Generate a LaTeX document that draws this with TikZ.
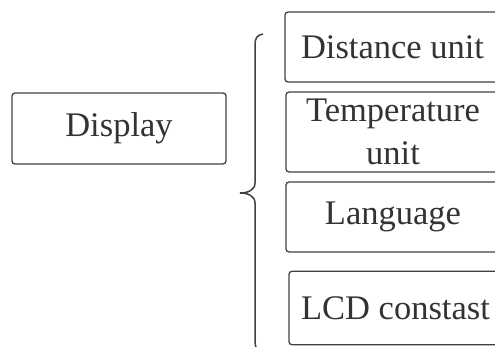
\documentclass[tikz,border=0pt]{standalone}
\usepackage{fontspec}
\setmainfont{Liberation Serif}
\definecolor{linegray}{HTML}{404040}
\definecolor{textgray}{HTML}{333333}
\begin{document}
\begin{tikzpicture}[x=1pt,y=1pt,
  box/.style={draw=linegray, line width=1.3pt, rounded corners=3pt, text=textgray,
    font=\fontsize{34.5}{43}\selectfont, inner sep=0pt, align=center},
  brace/.style={draw=linegray, line width=1.5pt}]
\useasboundingbox (0,0) rectangle (495,-347);
\clip (0,0) rectangle (495,-347);
\node[box, minimum width=214pt, minimum height=71pt] (display) at (119,-128.5) {Display};
\node[box, minimum width=215pt, minimum height=70pt] (dist) at (392.5,-47) {Distance unit};
\node[box, minimum width=214pt, minimum height=80pt] (temp) at (393,-132) {Temperature\\unit};
\node[box, minimum width=214pt, minimum height=70pt] (lang) at (393,-217) {Language};
\node[box, minimum width=213pt, minimum height=73.5pt] (lcd) at (395.5,-308) {LCD constast};
\coordinate (btop) at (263,-34);
\coordinate (btip) at (240,-193);
\coordinate (bbot) at (263,-352);
\draw[brace] (btop) .. controls (257,-35) and (255,-38) .. (255,-45) -- (255,-183)
  .. controls (255,-190) and (248,-193) .. (btip)
  .. controls (248,-193) and (255,-196) .. (255,-203) -- (255,-341)
  .. controls (255,-348) and (257,-351) .. (bbot);
\end{tikzpicture}
\end{document}
